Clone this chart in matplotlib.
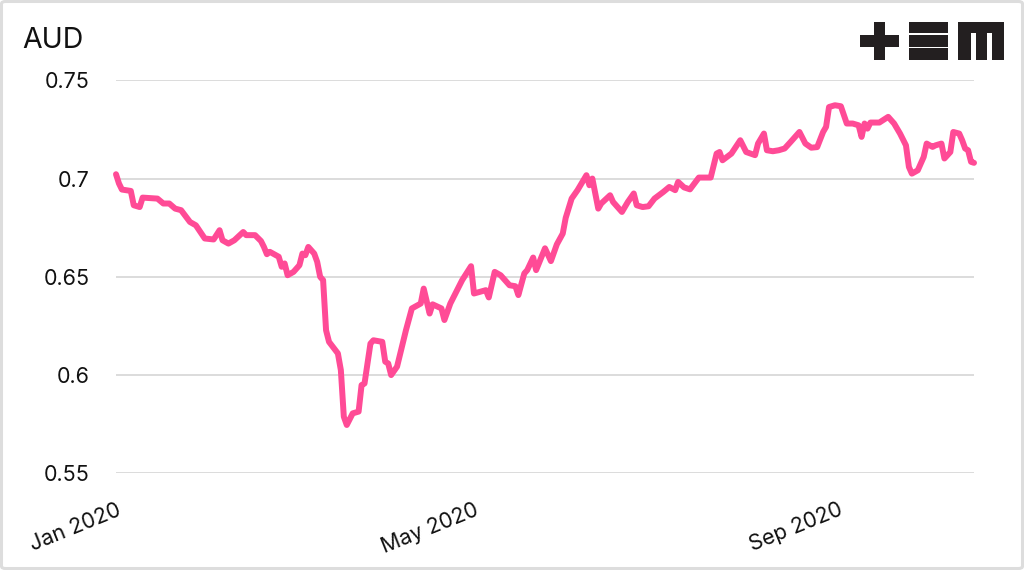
import numpy as np
import pandas as pd
import matplotlib
matplotlib.use('Agg')
import matplotlib.pyplot as plt
from matplotlib.patches import Rectangle, FancyBboxPatch

plt.rcParams['font.family'] = ['Inter', 'DejaVu Sans']

# AUD/USD, 2020 - day offsets from 1 Jan 2020 and rate
START = pd.Timestamp('2020-01-01')
days = [0, 1, 2, 5, 6, 8, 9, 14, 16, 18, 20, 22, 25, 27, 30, 33, 35, 36, 38, 40,
        43, 44, 47, 49, 50, 51, 52, 55, 56, 57, 58, 60, 62, 63, 64, 65, 67, 68, 69, 70,
        71, 72, 75, 76, 77, 78, 80, 82, 83, 84, 86, 87, 90, 91, 92, 93, 95, 98, 100, 103,
        104, 106, 107, 110, 111, 113, 117, 120, 121, 125, 126, 128, 130, 133, 135, 136, 138, 139, 141, 142,
        145, 147, 149, 151, 152, 154, 156, 159, 160, 161, 163, 164, 167, 168, 171, 173, 175, 176, 178, 180,
        182, 185, 187, 189, 190, 192, 194, 197, 201, 203, 204, 205, 208, 211, 213, 216, 217, 219, 220, 222,
        224, 226, 228, 231, 233, 235, 237, 239, 240, 241, 243, 245, 247, 249, 251, 252, 253, 254, 255, 258,
        261, 263, 265, 267, 268, 269, 271, 273, 274, 276, 277, 279, 280, 282, 283, 285, 286, 287, 288, 289,
        290]
aud = [0.7022, 0.6975, 0.6944, 0.6937, 0.6864, 0.6855, 0.6903, 0.6898, 0.6873, 0.6873,
       0.6847, 0.6839, 0.6779, 0.6762, 0.6695, 0.6690, 0.6737, 0.6686, 0.6669, 0.6686,
       0.6728, 0.6712, 0.6712, 0.6682, 0.6652, 0.6615, 0.6627, 0.6602, 0.6551, 0.6568,
       0.6508, 0.6525, 0.6559, 0.6618, 0.6610, 0.6652, 0.6618, 0.6576, 0.6500, 0.6483,
       0.6228, 0.6169, 0.6110, 0.6025, 0.5788, 0.5746, 0.5805, 0.5814, 0.5949, 0.5957,
       0.6160, 0.6177, 0.6169, 0.6068, 0.6059, 0.6000, 0.6043, 0.6228, 0.6339, 0.6364,
       0.6440, 0.6313, 0.6360, 0.6339, 0.6280, 0.6364, 0.6483, 0.6554, 0.6415, 0.6432,
       0.6395, 0.6525, 0.6508, 0.6457, 0.6452, 0.6407, 0.6517, 0.6534, 0.6598, 0.6534,
       0.6645, 0.6580, 0.6665, 0.6720, 0.6800, 0.6898, 0.6941, 0.7017, 0.6966, 0.7000,
       0.6847, 0.6873, 0.6915, 0.6881, 0.6830, 0.6881, 0.6924, 0.6864, 0.6855, 0.6859,
       0.6898, 0.6932, 0.6957, 0.6941, 0.6983, 0.6955, 0.6945, 0.7005, 0.7005, 0.7127,
       0.7135, 0.7093, 0.7127, 0.7195, 0.7135, 0.7119, 0.7178, 0.7229, 0.7144, 0.7139,
       0.7144, 0.7153, 0.7186, 0.7237, 0.7178, 0.7157, 0.7160, 0.7237, 0.7263, 0.7364,
       0.7373, 0.7368, 0.7280, 0.7280, 0.7271, 0.7212, 0.7280, 0.7254, 0.7285, 0.7285,
       0.7314, 0.7280, 0.7229, 0.7169, 0.7059, 0.7025, 0.7042, 0.7110, 0.7178, 0.7161,
       0.7169, 0.7178, 0.7102, 0.7135, 0.7237, 0.7229, 0.7195, 0.7153, 0.7144, 0.7085,
       0.7080]

tick_dates = ['2020-01-01', '2020-05-01', '2020-09-01']
tick_labels = ['Jan 2020', 'May 2020', 'Sep 2020']
y_ticks = [0.55, 0.6, 0.65, 0.7, 0.75]
y_labels = ['0.55', '0.6', '0.65', '0.7', '0.75']

dates = START + pd.to_timedelta(days, unit='D')

W, H = 1024, 570
fig = plt.figure(figsize=(W / 100, H / 100), dpi=100)
ax = fig.add_axes([116 / W, (H - 473.3) / H, (974 - 116) / W, (473.3 - 80.3) / H])

ax.plot(dates, aud, color='#FF4B96', linewidth=4.3, solid_joinstyle='round',
        solid_capstyle='round', clip_on=False, zorder=3)

ax.set_ylim(0.55, 0.75)
ax.set_xlim(START, START + pd.Timedelta(days=290))
ax.set_yticks(y_ticks)
ax.set_yticklabels(y_labels)
ax.set_xticks(pd.to_datetime(tick_dates))
ax.set_xticklabels(tick_labels, rotation=22, ha='right', va='top',
                   rotation_mode='anchor')
ax.tick_params(axis='both', length=0, labelsize=15.5, colors='#111111')
ax.tick_params(axis='y', pad=19)
ax.tick_params(axis='x', pad=19)
ax.grid(axis='y', color='#d9d9d9', linewidth=1.3)
ax.set_axisbelow(True)
for s in ax.spines.values():
    s.set_visible(False)

fig.text(22 / W, 1 - 40 / H, 'AUD', fontsize=20.5, color='#111111', va='center', ha='left')

# logo "+EM" drawn as blocks, pixel coords from top-left
def px_rect(x0, y0, x1, y1):
    fig.patches.append(Rectangle((x0 / W, 1 - y1 / H), (x1 - x0) / W, (y1 - y0) / H,
                                 transform=fig.transFigure, facecolor='#231F20',
                                 edgecolor='none'))

px_rect(874, 22, 885, 60)
px_rect(860, 35, 899, 47)
px_rect(909, 22, 948, 33.3)
px_rect(909, 35, 948, 46.7)
px_rect(909, 48.3, 948, 60)
px_rect(958, 22, 1004, 33.3)
px_rect(958, 33.3, 970.7, 60)
px_rect(976, 33.3, 986.7, 60)
px_rect(991.7, 33.3, 1004, 60)

# light rounded frame
fig.patches.append(FancyBboxPatch((1.5 / W, 1.5 / H), (W - 3) / W, (H - 3) / H,
                                  boxstyle='round,pad=0,rounding_size=0.004',
                                  transform=fig.transFigure, facecolor='none',
                                  edgecolor='#dddddd', linewidth=2.2))

fig.savefig('out.png', dpi=100, facecolor='white')
